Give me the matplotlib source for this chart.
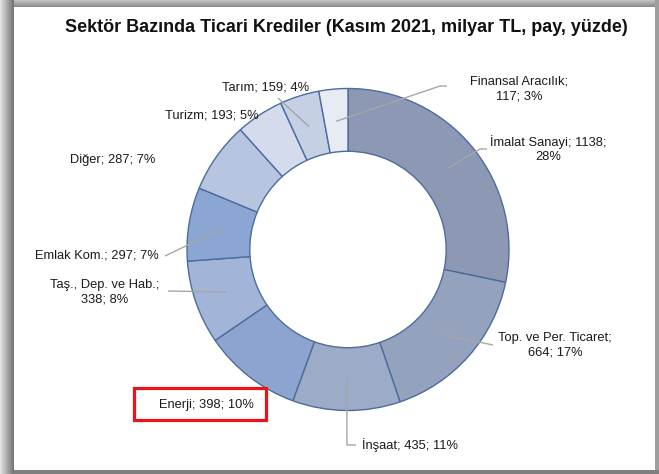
import numpy as np
import matplotlib
matplotlib.use("Agg")
import matplotlib.pyplot as plt
from matplotlib.patches import Rectangle

plt.rcParams['font.family'] = ['Liberation Sans', 'DejaVu Sans']

title = "Sektör Bazında Ticari Krediler (Kasım 2021, milyar TL, pay, yüzde)"
sectors = ["İmalat Sanayi", "Top. ve Per. Ticaret", "İnşaat", "Enerji",
           "Taş., Dep. ve Hab.", "Emlak Kom.", "Diğer", "Turizm", "Tarım",
           "Finansal Aracılık"]
values = [1138, 664, 435, 398, 338, 297, 287, 193, 159, 117]
shares = [28, 17, 11, 10, 8, 7, 7, 5, 4, 3]
colors = ["#8d99b4", "#94a2be", "#9cabc8", "#8ca4cf", "#a2b4d8", "#8ca6d3",
          "#b7c5e1", "#d3dbec", "#c6d0e5", "#e7ebf4"]

W, H = 659, 474
CX, CY, R = 348, 249.5, 161.0

def px(x, y):
    return ((x - CX) / R, (CY - y) / R)

fig = plt.figure(figsize=(W / 100, H / 100), dpi=100)

# background frame with shadow
bg = fig.add_axes([0, 0, 1, 1])
img = np.ones((H, W, 3))
for i in range(14):
    v = 0.88 - 0.42 * i / 13
    img[:, i, :] = v
for j in range(7):
    v = 0.75 - 0.2 * j / 6
    img[j, 14:, :] = v
img[:, 655:, :] = 0.62
img[470:, 14:, :] = 0.5
bg.imshow(img, extent=(0, W, H, 0), aspect='auto', interpolation='nearest')
bg.set_xlim(0, W)
bg.set_ylim(H, 0)
bg.axis('off')

ax = fig.add_axes([0, 0, 1, 1])
ax.axis('off')
ax.patch.set_alpha(0)

wedges, _ = ax.pie(values, colors=colors, startangle=90, counterclock=False,
                   radius=1.0, center=(0, 0), frame=False,
                   wedgeprops=dict(width=0.39, edgecolor="#4d6c9c", linewidth=1.0))
ax.set_xlim(-CX / R, (W - CX) / R)
ax.set_ylim(-(H - CY) / R, CY / R)
ax.set_aspect('auto')

labels = [
    f"{sectors[0]}; {values[0]};\n{shares[0]}%",
    f"{sectors[1]};\n{values[1]}; {shares[1]}%",
    f"{sectors[2]}; {values[2]}; {shares[2]}%",
    f"{sectors[3]}; {values[3]}; {shares[3]}%",
    f"{sectors[4]};\n{values[4]}; {shares[4]}%",
    f"{sectors[5]}; {values[5]}; {shares[5]}%",
    f"{sectors[6]}; {values[6]}; {shares[6]}%",
    f"{sectors[7]}; {values[7]}; {shares[7]}%",
    f"{sectors[8]}; {values[8]}; {shares[8]}%",
    f"{sectors[9]};\n{values[9]}; {shares[9]}%",
]
# label centers (pixels) and leader line points (pixels)
label_pos = [(548, 149), (555, 345), (410, 445), (206, 405), (105, 292),
             (97, 256), (113, 160), (212, 115), (266, 88), (519, 89)]
line_end = [[(480, 149), (487, 149)], [(493, 345)], [(347, 445), (356, 445)], None,
            [(168, 291)], [(165, 256)], None, None, [(278, 98)],
            [(440, 86), (447, 86)]]

for w, lab, pos, le in zip(wedges, labels, label_pos, line_end):
    ang = np.deg2rad((w.theta1 + w.theta2) / 2)
    r0 = 0.8
    sx, sy = r0 * np.cos(ang), r0 * np.sin(ang)
    if le is not None:
        pts = [(sx, sy)] + [px(*p) for p in le]
        xs, ys = zip(*pts)
        ax.plot(xs, ys, color="#a6a6a6", lw=1.0, solid_capstyle='butt', zorder=3)
    tx, ty = px(*pos)
    ax.text(tx, ty, lab, ha='center', va='center', fontsize=9.3,
            color="#1a1a1a", linespacing=1.3, zorder=4)

# red highlight box around Enerji label
x0, y0 = px(134, 420)
x1, y1 = px(266, 388)
ax.add_patch(Rectangle((x0, y0), x1 - x0, y1 - y0, fill=False,
                       edgecolor="#e8141b", lw=2.3, zorder=5))

fig.text(346 / W, 1 - 28 / H, title, ha='center', va='center',
         fontsize=13, fontweight='bold', color="#111111")

fig.savefig("out.png", dpi=100)
